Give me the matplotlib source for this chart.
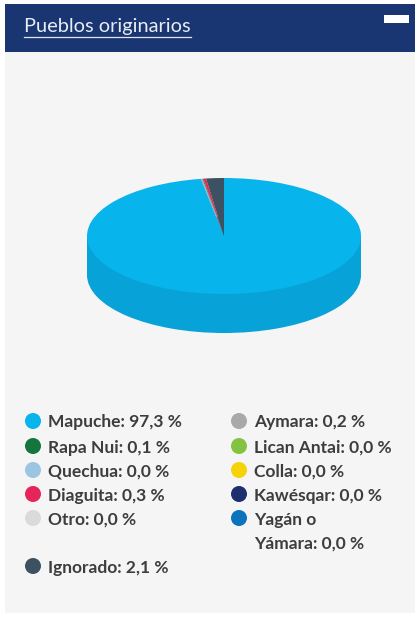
import matplotlib
matplotlib.use("Agg")
import matplotlib.pyplot as plt
from matplotlib.patches import Rectangle, Circle

# Pie order (clockwise from 12 o'clock)
pie_names = ["Mapuche", "Aymara", "Rapa Nui", "Lican Antai", "Quechua", "Colla",
             "Diaguita", "Kawésqar", "Otro", "Yagán o Yámara", "Ignorado"]
pie_values = [97.3, 0.2, 0.1, 0.0, 0.0, 0.0, 0.3, 0.0, 0.0, 0.0, 2.1]
pie_colors = ["#08b4ec", "#a9a9a9", "#14763c", "#84c341", "#9cc5e3", "#f5d20a",
              "#e6265a", "#1e2f6e", "#d9dbd9", "#0c73bd", "#3c5162"]
side_color = "#07a2d8"

col1_labels = ["Mapuche: 97,3 %", "Rapa Nui: 0,1 %", "Quechua: 0,0 %", "Diaguita: 0,3 %", "Otro: 0,0 %", "Ignorado: 2,1 %"]
col1_colors = ["#08b4ec", "#14763c", "#9cc5e3", "#e6265a", "#d9dbd9", "#3c5162"]
col2_labels = ["Aymara: 0,2 %", "Lican Antai: 0,0 %", "Colla: 0,0 %", "Kawésqar: 0,0 %", "Yagán o", "Yámara: 0,0 %"]
col2_colors = ["#a9a9a9", "#84c341", "#f5d20a", "#1e2f6e", "#0c73bd", None]
title = "Pueblos originarios"

W, H = 415, 618
fig = plt.figure(figsize=(W / 100, H / 100), dpi=100, facecolor="white")

# Page-level layer in pixel coordinates
bg = fig.add_axes([0, 0, 1, 1])
bg.set_xlim(0, W)
bg.set_ylim(H, 0)
bg.axis("off")
bg.add_patch(Rectangle((5, 52), W - 5, 561, fc="#f5f5f5", ec="none"))
bg.add_patch(Rectangle((5, 4), W - 5, 48, fc="#1a3672", ec="none"))
bg.add_patch(Rectangle((384, 15), 25, 8, fc="white", ec="none"))
bg.text(24, 26.5, title, color="#e8edf5", fontsize=14.4, family="Lato", va="center", ha="left")
bg.plot([24, 191], [37, 37], color="#dfe5f0", lw=0.9)

y1 = [421, 446, 470, 494, 518, 566]
y2 = [421, 446, 470, 494, 518, 542]
for x, ys, labels, colors in [(33, y1, col1_labels, col1_colors), (239, y2, col2_labels, col2_colors)]:
    for y, lab, c in zip(ys, labels, colors):
        if c is not None:
            bg.add_patch(Circle((x, y), 8, fc=c, ec="none"))
        bg.text(x + 15, y + 1.5, lab, color="#3d3d3d", fontsize=12.5, family="Lato", weight="bold",
                va="center", ha="left")

# Pie axes: unit circle squashed into an ellipse, rx=137px, ry=58px, centred at (224,236)
rx, ry, depth = 137, 58, 39
ax_w, ax_h = 2 * rx, 2 * ry + depth
ax = fig.add_axes([(224 - rx) / W, 1 - (236 + ry + depth) / H, ax_w / W, ax_h / H], facecolor="none")
d = depth / ry
ax.pie([100], colors=[side_color], startangle=90, center=(0, -d), radius=1,
       wedgeprops={"linewidth": 0})
ax.add_patch(Rectangle((-1, -d), 2, d, fc=side_color, ec="none"))
ax.pie(pie_values, colors=pie_colors, startangle=90, counterclock=False, center=(0, 0), radius=1,
       wedgeprops={"linewidth": 0})
ax.set_aspect("auto")
ax.set_xlim(-1, 1)
ax.set_ylim(-1 - d, 1)
ax.axis("off")

fig.savefig("out.png", dpi=100)
